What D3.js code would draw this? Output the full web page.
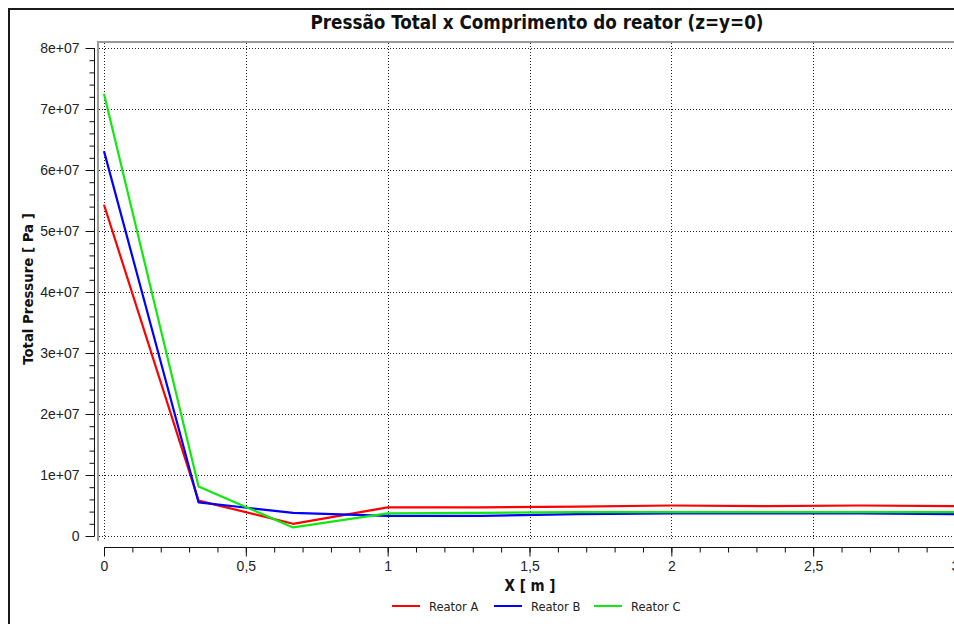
<!DOCTYPE html>
<html>
<head>
<meta charset="utf-8">
<script src="https://cdn.jsdelivr.net/npm/d3@7"></script>
<style>
  body { margin: 0; background: #fff; }
  svg { display: block; font-family: 'DejaVu Sans Condensed', 'DejaVu Sans', sans-serif; }
  .tick text { fill: #222; }
</style>
</head>
<body>
<div id="chart"></div>
<script>
// X positions along the reactor [m]
var xs = [0, 1/3, 2/3, 1, 4/3, 5/3, 2, 7/3, 8/3, 3];

// Total pressure [Pa] per reactor
var reatorA = [5.43e7, 0.58e7, 0.20e7, 0.47e7, 0.47e7, 0.48e7, 0.50e7, 0.49e7, 0.50e7, 0.49e7];
var reatorB = [6.31e7, 0.55e7, 0.38e7, 0.33e7, 0.33e7, 0.36e7, 0.37e7, 0.37e7, 0.37e7, 0.36e7];
var reatorC = [7.25e7, 0.81e7, 0.14e7, 0.37e7, 0.38e7, 0.39e7, 0.39e7, 0.39e7, 0.39e7, 0.39e7];

var seriesNames = ["Reator A", "Reator B", "Reator C"];
var seriesColors = ["#ff0000", "#0000ff", "#10e810"];

var xTicks = [0, 0.5, 1, 1.5, 2, 2.5, 3];
var yTicks = [0, 1e7, 2e7, 3e7, 4e7, 5e7, 6e7, 7e7, 8e7];

function display(){
	var width = 954, height = 624;

	var svg = d3.select("#chart").append("svg")
		.attr("width", width)
		.attr("height", height);

	// outer frame
	svg.append("rect")
		.attr("x", 9).attr("y", 9)
		.attr("width", 960).attr("height", 640)
		.attr("fill", "none")
		.attr("stroke", "#1a1a1a")
		.attr("stroke-width", 2);

	var x = d3.scaleLinear().domain([0, 3]).range([104, 955]);
	var y = d3.scaleLinear().domain([0, 8e7]).range([536, 48]);

	// plot frame (grey)
	svg.append("path")
		.attr("d", "M98,541V42H960")
		.attr("fill", "none")
		.attr("stroke", "#9a9a9a")
		.attr("stroke-width", 2);

	// grid
	var grid = svg.append("g")
		.attr("stroke", "#222")
		.attr("stroke-width", 1)
		.attr("stroke-dasharray", "1,2");
	grid.selectAll("line.h")
		.data(yTicks).enter().append("line")
		.attr("x1", 99).attr("x2", width)
		.attr("y1", function(d){ return Math.round(y(d)) + 0.5; })
		.attr("y2", function(d){ return Math.round(y(d)) + 0.5; });
	grid.selectAll("line.v")
		.data(xTicks).enter().append("line")
		.attr("y1", 43).attr("y2", 540)
		.attr("x1", function(d){ return Math.round(x(d)) + 0.5; })
		.attr("x2", function(d){ return Math.round(x(d)) + 0.5; });

	// y axis: minor then major
	var yAxisG = svg.append("g").attr("transform", "translate(94.5,0)");
	yAxisG.call(d3.axisLeft(y).tickValues(d3.range(0, 8e7 + 1, 2e6)).tickSize(5).tickFormat(""));
	yAxisG.append("g").call(d3.axisLeft(y).tickValues(yTicks).tickSize(9).tickPadding(6)
		.tickFormat(function(d){ return d === 0 ? "0" : (d / 1e7) + "e+07"; }));
	yAxisG.selectAll(".domain").remove();
	yAxisG.append("line").attr("y1", y(8e7)).attr("y2", y(0)).attr("stroke", "#111");
	yAxisG.selectAll("line").attr("stroke", "#111");
	yAxisG.selectAll("text").attr("font-size", 14).attr("font-family", null);

	// x axis: minor then major
	var xAxisG = svg.append("g").attr("transform", "translate(0,547.5)");
	xAxisG.call(d3.axisBottom(x).tickValues(d3.range(0, 3.01, 0.1)).tickSize(5).tickFormat(""));
	xAxisG.append("g").call(d3.axisBottom(x).tickValues(xTicks).tickSize(9).tickPadding(5)
		.tickFormat(function(d){ return String(d).replace(".", ","); }));
	xAxisG.selectAll(".domain").remove();
	xAxisG.append("line").attr("x1", x(0)).attr("x2", width).attr("stroke", "#111");
	xAxisG.selectAll("line").attr("stroke", "#111");
	xAxisG.selectAll("text").attr("font-size", 14).attr("font-family", null);

	// series
	var line = d3.line()
		.x(function(d, i){ return x(xs[i]); })
		.y(function(d){ return y(d); });

	[reatorA, reatorB, reatorC].forEach(function(vals, i){
		svg.append("path")
			.datum(vals)
			.attr("d", line)
			.attr("fill", "none")
			.attr("stroke", seriesColors[i])
			.attr("stroke-width", 2.2)
			.attr("stroke-linejoin", "round");
	});

	// titles
	svg.append("text")
		.attr("x", 537).attr("y", 29)
		.attr("text-anchor", "middle")
		.attr("font-weight", "bold")
		.attr("font-size", 18.7)
		.attr("fill", "#111")
		.text("Pressão Total x Comprimento do reator (z=y=0)");

	svg.append("text")
		.attr("x", 530).attr("y", 591)
		.attr("text-anchor", "middle")
		.attr("font-weight", "bold")
		.attr("font-size", 15)
		.attr("fill", "#111")
		.text("X [ m ]");

	svg.append("text")
		.attr("transform", "translate(33,289) rotate(-90)")
		.attr("text-anchor", "middle")
		.attr("font-weight", "bold")
		.attr("font-size", 14.8)
		.attr("fill", "#111")
		.text("Total Pressure [ Pa ]");

	// legend
	var legendX = [392, 494, 594];
	var legend = svg.selectAll("g.legend")
		.data(seriesNames).enter().append("g")
		.attr("transform", function(d, i){ return "translate(" + legendX[i] + ",606)"; });
	legend.append("line")
		.attr("x1", 0).attr("x2", 28)
		.attr("stroke", function(d, i){ return seriesColors[i]; })
		.attr("stroke-width", 2);
	legend.append("text")
		.attr("x", 37).attr("y", 4.5)
		.attr("font-size", 12.8)
		.attr("fill", "#222")
		.text(function(d){ return d; });
}

display();
</script>
</body>
</html>
